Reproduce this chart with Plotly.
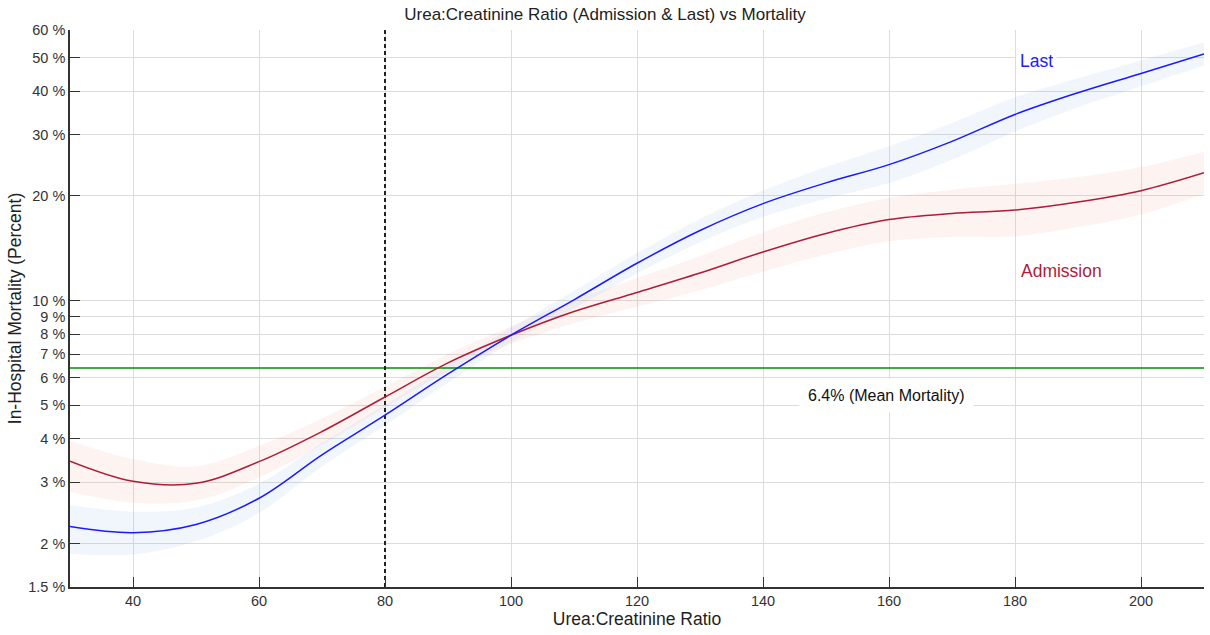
import math
import plotly.graph_objects as go

# Urea:Creatinine ratio grid
ratio = [30, 40, 50, 60, 70, 80, 90, 100, 110, 120, 130, 140, 150, 160, 170, 180, 190, 200, 210]

# Mortality (%) by last-measured ratio, with confidence band
last_mid = [2.24, 2.15, 2.27, 2.70, 3.60, 4.68, 6.15, 7.95, 10.05, 12.8, 15.9, 19.0, 21.8, 24.6, 28.7, 34.3, 39.6, 45.0, 51.2]
last_lo = [1.87, 1.86, 2.03, 2.45, 3.33, 4.37, 5.80, 7.57, 9.48, 11.96, 14.72, 17.43, 19.64, 21.77, 25.40, 30.63, 36.0, 41.28, 47.41]
last_hi = [2.58, 2.47, 2.54, 2.97, 3.89, 5.01, 6.52, 8.35, 10.65, 13.70, 17.17, 20.71, 24.20, 27.80, 32.43, 38.42, 43.56, 49.05, 55.30]

# Mortality (%) by admission ratio, with confidence band
adm_mid = [3.45, 3.02, 2.98, 3.44, 4.20, 5.28, 6.62, 7.95, 9.30, 10.55, 12.0, 13.8, 15.6, 17.1, 17.8, 18.2, 19.2, 20.7, 23.3]
adm_lo = [2.82, 2.62, 2.66, 3.10, 3.85, 4.93, 6.25, 7.50, 8.61, 9.59, 10.71, 12.11, 13.57, 14.81, 15.21, 15.29, 16.27, 17.69, 20.26]
adm_hi = [3.95, 3.50, 3.34, 3.82, 4.58, 5.65, 7.02, 8.43, 10.04, 11.61, 13.44, 15.73, 17.94, 19.75, 20.83, 21.66, 22.66, 24.22, 26.80]

mean_mortality = 6.4
cutoff_ratio = 80

y_ticks = [1.5, 2, 3, 4, 5, 6, 7, 8, 9, 10, 20, 30, 40, 50, 60]
y_tick_text = ["1.5 %", "2 %", "3 %", "4 %", "5 %", "6 %", "7 %", "8 %", "9 %", "10 %",
               "20 %", "30 %", "40 %", "50 %", "60 %"]
x_ticks = [40, 60, 80, 100, 120, 140, 160, 180, 200]

BLUE = "#1a1aff"
RED = "#b01c38"
FONT = "Liberation Sans, Arial, sans-serif"

fig = go.Figure()

def band(lo, hi, fillcolor):
    fig.add_trace(go.Scatter(x=ratio, y=lo, mode="lines", line=dict(width=0, shape="spline"),
                             hoverinfo="skip", showlegend=False))
    fig.add_trace(go.Scatter(x=ratio, y=hi, mode="lines", line=dict(width=0, shape="spline"),
                             fill="tonexty", fillcolor=fillcolor, hoverinfo="skip", showlegend=False))

band(last_lo, last_hi, "rgba(120,170,225,0.10)")
band(adm_lo, adm_hi, "rgba(235,130,100,0.09)")

# Mean mortality reference line
fig.add_trace(go.Scatter(x=[ratio[0], ratio[-1]], y=[mean_mortality, mean_mortality], mode="lines",
                         line=dict(color="#0a8a0a", width=1.5), showlegend=False))
# Cut-off ratio
fig.add_trace(go.Scatter(x=[cutoff_ratio, cutoff_ratio], y=[y_ticks[0], y_ticks[-1]], mode="lines",
                         line=dict(color="#222", width=2, dash="4px,3px"), showlegend=False))

fig.add_trace(go.Scatter(x=ratio, y=adm_mid, mode="lines", name="Admission",
                         line=dict(color=RED, width=1.5, shape="spline"), showlegend=False))
fig.add_trace(go.Scatter(x=ratio, y=last_mid, mode="lines", name="Last",
                         line=dict(color=BLUE, width=1.5, shape="spline"), showlegend=False))

fig.add_annotation(x=183.4, y=math.log10(49.0), text="Last", showarrow=False,
                   font=dict(color=BLUE, size=17.5, family=FONT), bgcolor="white", borderpad=3)
fig.add_annotation(x=187.4, y=math.log10(12.2), text="Admission", showarrow=False,
                   font=dict(color=RED, size=17.5, family=FONT), bgcolor="white", borderpad=3)
fig.add_annotation(x=159.6, y=math.log10(5.32), text="6.4% (Mean Mortality)", showarrow=False,
                   font=dict(color="#111", size=16, family=FONT), bgcolor="white", borderpad=8)

fig.update_layout(
    width=1210, height=635,
    margin=dict(l=70, r=6, t=30, b=48),
    paper_bgcolor="white", plot_bgcolor="white",
    font=dict(family=FONT, color="#222"),
    title=dict(text="Urea:Creatinine Ratio (Admission & Last) vs Mortality", x=0.5, xanchor="center",
               y=0.988, yanchor="top", font=dict(size=17, color="#222", family=FONT)),
    xaxis=dict(range=[30, 210], tickvals=x_ticks, showgrid=True, gridcolor="#dcdcdc", gridwidth=1,
               showline=True, linecolor="#333", linewidth=1.5, ticks="inside", ticklen=10,
               tickcolor="#333", tickfont=dict(size=14.5, color="#333"), zeroline=False,
               title=dict(text="Urea:Creatinine Ratio", font=dict(size=17.5, color="#222"), standoff=4)),
    yaxis=dict(type="log", range=[math.log10(1.5), math.log10(60)], tickvals=y_ticks,
               ticktext=y_tick_text, showgrid=True, gridcolor="#dcdcdc", gridwidth=1,
               showline=True, linecolor="#333", linewidth=1.5, ticks="inside", ticklen=10,
               tickcolor="#333", tickfont=dict(size=14.5, color="#333"), zeroline=False,
               title=dict(text="In-Hospital Mortality (Percent)", font=dict(size=17.5, color="#222"), standoff=2)),
)

fig.write_html("out.html")
